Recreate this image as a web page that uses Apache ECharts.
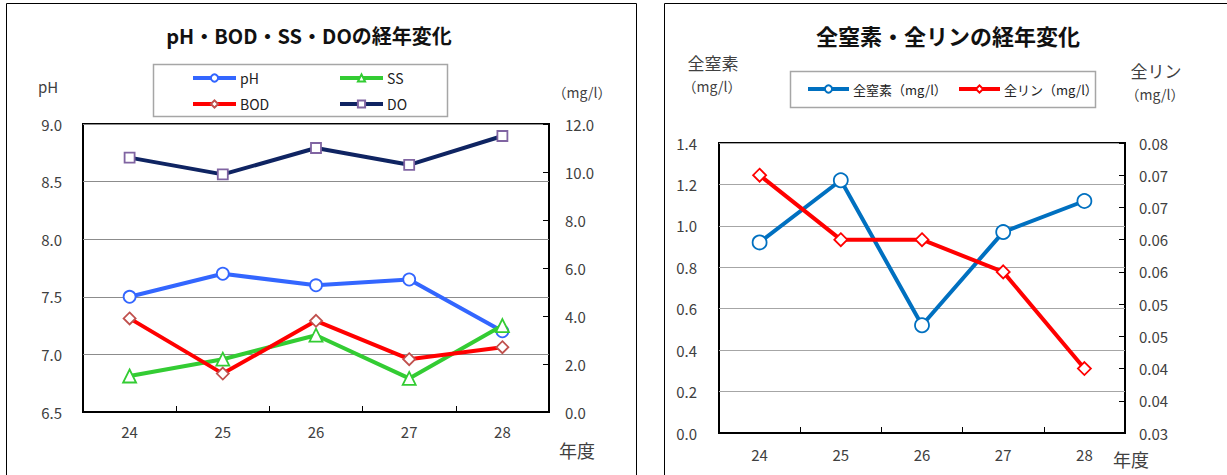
<!DOCTYPE html>
<html>
<head>
<meta charset="utf-8">
<script src="https://cdn.jsdelivr.net/npm/echarts@6/dist/echarts.min.js"></script>
<style>
html,body{margin:0;padding:0;background:#fff;}
#c{width:1227px;height:475px;}
</style>
</head>
<body>
<div id="c"></div>
<script>
// ---- data ----
const years = ['24', '25', '26', '27', '28'];
const phVals = [7.5, 7.7, 7.6, 7.65, 7.2];
const ssVals = [1.5, 2.2, 3.2, 1.4, 3.6];
const bodVals = [3.9, 1.6, 3.8, 2.2, 2.7];
const doVals = [10.6, 9.9, 11.0, 10.3, 11.5];
const tnVals = [0.92, 1.22, 0.52, 0.97, 1.12];
const tpVals = [0.075, 0.065, 0.065, 0.060, 0.045];

// ---- tick labels ----
const phTicks = ['6.5', '7.0', '7.5', '8.0', '8.5', '9.0'];
const mgTicks = ['0.0', '2.0', '4.0', '6.0', '8.0', '10.0', '12.0'];
const tnTicks = ['0.0', '0.2', '0.4', '0.6', '0.8', '1.0', '1.2', '1.4'];
const tpTicks = ['0.03', '0.04', '0.04', '0.05', '0.05', '0.06', '0.06', '0.07', '0.07', '0.08'];

const FONT = '"Noto Sans CJK JP", "Noto Sans", sans-serif';
const TXT = '#404040';

const chart = echarts.init(document.getElementById('c'), null, {renderer: 'svg'});

function tickFmt(arr, min, step) {
  return function (v) {
    const i = Math.round((v - min) / step);
    return arr[i] !== undefined ? arr[i] : '';
  };
}

function lineSeries(name, data, xi, yi, color, symbol, size, border, z) {
  return {
    name: name, type: 'line', data: data,
    xAxisIndex: xi, yAxisIndex: yi,
    symbol: symbol, symbolSize: size,
    lineStyle: {color: color, width: 4},
    itemStyle: {color: '#fff', borderColor: border, borderWidth: 1.8},
    z: z, animation: false,
    emphasis: {disabled: true}
  };
}

function legendItem(name, x, yc, w, fs) {
  return {
    data: [name], left: x, top: yc - 8, padding: 0,
    itemWidth: w, itemHeight: 9, itemGap: 0,
    lineStyle: {width: 4},
    textStyle: {fontFamily: FONT, fontSize: fs, color: '#222', lineHeight: 16, padding: [0, 0, 0, -1]},
    selectedMode: false, z: 5
  };
}

function txt(x, y, s, fs, extra) {
  return Object.assign({
    type: 'text', x: x, y: y, z: 3,
    style: Object.assign({text: s, fontFamily: FONT, fontSize: fs, fill: '#222',
      textAlign: 'center', textVerticalAlign: 'middle'}, extra || {})
  });
}

const option = {
  animation: false,
  textStyle: {fontFamily: FONT},
  grid: [
    {left: 83, top: 124, width: 466, height: 288, show: true, borderColor: '#000', borderWidth: 2, backgroundColor: 'transparent'},
    {left: 719, top: 143, width: 406, height: 290, show: true, borderColor: '#000', borderWidth: 2, backgroundColor: 'transparent'}
  ],
  xAxis: [
    {type: 'category', gridIndex: 0, data: years, boundaryGap: true,
     axisLine: {show: true, lineStyle: {color: '#000', width: 2}},
     axisTick: {show: true, inside: true, length: 6, lineStyle: {color: '#000', width: 1}},
     axisLabel: {fontSize: 15, color: TXT, margin: 12, fontFamily: FONT},
     splitLine: {show: false}},
    {type: 'category', gridIndex: 1, data: years, boundaryGap: true,
     axisLine: {show: true, lineStyle: {color: '#000', width: 2}},
     axisTick: {show: true, inside: true, length: 6, lineStyle: {color: '#000', width: 1}},
     axisLabel: {fontSize: 15, color: TXT, margin: 14, fontFamily: FONT},
     splitLine: {show: false}}
  ],
  yAxis: [
    {type: 'value', gridIndex: 0, position: 'left', min: 6.5, max: 9.0, interval: 0.5,
     axisLine: {show: false}, axisTick: {show: false},
     axisLabel: {fontSize: 15, color: TXT, margin: 21, fontFamily: FONT, formatter: tickFmt(phTicks, 6.5, 0.5)},
     splitLine: {show: true, lineStyle: {color: '#8c8c8c', width: 1}}},
    {type: 'value', gridIndex: 0, position: 'right', min: 0, max: 12, interval: 2,
     axisLine: {show: false}, axisTick: {show: true, inside: true, length: 6, lineStyle: {color: '#000'}},
     axisLabel: {fontSize: 15, color: TXT, margin: 16, fontFamily: FONT, formatter: tickFmt(mgTicks, 0, 2)},
     splitLine: {show: false}},
    {type: 'value', gridIndex: 1, position: 'left', min: 0, max: 1.4, interval: 0.2,
     axisLine: {show: false}, axisTick: {show: false},
     axisLabel: {fontSize: 15, color: TXT, margin: 22, fontFamily: FONT, formatter: tickFmt(tnTicks, 0, 0.2)},
     splitLine: {show: true, lineStyle: {color: '#a6a6a6', width: 1}}},
    {type: 'value', gridIndex: 1, position: 'right', min: 0.035, max: 0.08, interval: 0.005,
     axisLine: {show: false}, axisTick: {show: true, inside: true, length: 6, lineStyle: {color: '#000'}},
     axisLabel: {fontSize: 15, color: TXT, margin: 14, fontFamily: FONT, formatter: tickFmt(tpTicks, 0.035, 0.005)},
     splitLine: {show: false}}
  ],
  legend: [
    legendItem('pH', 191, 78, 43, 14),
    legendItem('SS', 338, 78, 43, 14),
    legendItem('BOD', 191, 104, 43, 14),
    legendItem('DO', 338, 104, 43, 14),
    legendItem('全窒素（mg/l）', 806, 89, 41, 13),
    legendItem('全リン（mg/l）', 957, 89, 41, 13)
  ],
  series: [
    lineSeries('pH', phVals, 0, 0, '#3366ff', 'circle', 12, '#3366ff', 3),
    lineSeries('SS', ssVals, 0, 1, '#33cc33', 'triangle', 13, '#33cc33', 4),
    lineSeries('BOD', bodVals, 0, 1, '#ff0000', 'diamond', 12, '#c0504d', 5),
    lineSeries('DO', doVals, 0, 1, '#0f2462', 'rect', 10, '#8064a2', 6),
    lineSeries('全窒素（mg/l）', tnVals, 1, 2, '#0070c0', 'circle', 14, '#0070c0', 3),
    lineSeries('全リン（mg/l）', tpVals, 1, 3, '#ff0000', 'diamond', 13, '#ff0000', 4)
  ],
  graphic: [
    {type: 'rect', z: 0, shape: {x: 6.5, y: 3.5, width: 630, height: 520}, style: {fill: 'none', stroke: '#000', lineWidth: 1}},
    {type: 'rect', z: 0, shape: {x: 664.5, y: 3.5, width: 600, height: 520}, style: {fill: 'none', stroke: '#000', lineWidth: 1}},
    {type: 'rect', z: 1, shape: {x: 153.5, y: 64.5, width: 294, height: 52}, style: {fill: '#fff', stroke: '#a6a6a6', lineWidth: 1.5}},
    {type: 'rect', z: 1, shape: {x: 790.5, y: 71.5, width: 305, height: 36}, style: {fill: '#fff', stroke: '#a6a6a6', lineWidth: 1.5}},
    txt(309, 35, 'pH・BOD・SS・DOの経年変化', 20, {fontWeight: 'bold', fill: '#111'}),
    txt(948, 35, '全窒素・全リンの経年変化', 22, {fontWeight: 'bold', fill: '#111'}),
    txt(48, 86, 'pH', 15, {fill: TXT}),
    txt(582, 92, '（mg/l）', 14, {fill: TXT}),
    txt(577, 450, '年度', 18, {fill: TXT}),
    txt(713, 62, '全窒素', 17, {fill: TXT}),
    txt(712, 86, '（mg/l）', 14, {fill: TXT}),
    txt(1156, 70, '全リン', 17, {fill: TXT}),
    txt(1155, 94, '（mg/l）', 14, {fill: TXT}),
    txt(1131, 459, '年度', 18, {fill: TXT})
  ]
};
chart.setOption(option);
</script>
</body>
</html>
